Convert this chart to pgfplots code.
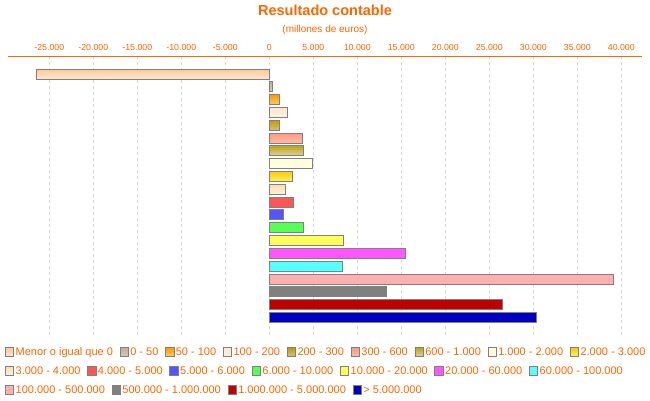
\documentclass[border=0pt]{standalone}
\usepackage{fontspec}
\setmainfont{Liberation Sans}
\usepackage{pgfplots}
\pgfplotsset{compat=1.18}
\definecolor{org}{HTML}{FF6600}
\definecolor{barline}{HTML}{808080}
\definecolor{gridc}{HTML}{D8D8D8}
\definecolor{a1}{HTML}{FFC999}\definecolor{b1}{HTML}{FFE6CC}
\definecolor{a2}{HTML}{C4B098}\definecolor{b2}{HTML}{D6C8B4}
\definecolor{a3}{HTML}{FF9900}\definecolor{b3}{HTML}{FFCC66}
\definecolor{a4}{HTML}{FFE6CC}\definecolor{b4}{HTML}{FFF2E4}
\definecolor{a5}{HTML}{C49A00}\definecolor{b5}{HTML}{D4C080}
\definecolor{a6}{HTML}{FF9980}\definecolor{b6}{HTML}{FFBBA4}
\definecolor{a7}{HTML}{BFA41A}\definecolor{b7}{HTML}{DCD09C}
\definecolor{a8}{HTML}{FFFFD8}\definecolor{b8}{HTML}{FFFFE4}
\definecolor{a9}{HTML}{FFCC00}\definecolor{b9}{HTML}{FFEE66}
\definecolor{a10}{HTML}{FFDDAA}\definecolor{b10}{HTML}{FFF0DC}
\definecolor{a11}{HTML}{FF5555}
\definecolor{a12}{HTML}{5555FF}
\definecolor{a13}{HTML}{55FF55}
\definecolor{a14}{HTML}{FFFF55}
\definecolor{a15}{HTML}{FF55FF}
\definecolor{a16}{HTML}{55FFFF}
\definecolor{a17}{HTML}{FFAFAF}
\definecolor{a18}{HTML}{808080}
\definecolor{a19}{HTML}{C00000}
\definecolor{a20}{HTML}{0000C0}
\tikzset{
 c1/.style={top color=a1,bottom color=b1},
 c2/.style={top color=a2,bottom color=b2},
 c3/.style={top color=a3,bottom color=b3},
 c4/.style={top color=a4,bottom color=b4},
 c5/.style={top color=a5,bottom color=b5},
 c6/.style={top color=a6,bottom color=b6},
 c7/.style={top color=a7,bottom color=b7},
 c8/.style={top color=a8,bottom color=b8},
 c9/.style={top color=a9,bottom color=b9},
 c10/.style={top color=a10,bottom color=b10},
 c11/.style={fill=a11},
 c12/.style={fill=a12},
 c13/.style={fill=a13},
 c14/.style={fill=a14},
 c15/.style={fill=a15},
 c16/.style={fill=a16},
 c17/.style={fill=a17},
 c18/.style={fill=a18},
 c19/.style={fill=a19},
 c20/.style={fill=a20},
}
\pgfplotsset{
 legrow/.style={
   width=10pt, height=10pt, scale only axis, hide axis,
   xmin=0, xmax=1, ymin=0, ymax=1, anchor=south west,
   legend columns=-1,
   legend image code/.code={\draw[##1,draw=barline,line width=0.8pt] (0pt,-4.2pt) rectangle (8.4pt,4.2pt);},
   legend style={draw=none, fill=none, inner sep=0pt, outer sep=0pt,
     at={(0,0.5)}, anchor=west,
     font=\fontsize{11}{12}\selectfont, text=org,
     nodes={inner sep=1.5pt},
     /tikz/every even column/.append style={column sep=5.2pt}},
 },
}
\begin{document}
\begin{tikzpicture}[x=1pt,y=1pt]
\path[use as bounding box] (0,0) rectangle (650,400);
\node[font=\bfseries\fontsize{14.5}{16}\selectfont, text=org] at (325,390) {Resultado contable};
\node[font=\fontsize{10}{11}\selectfont, text=org] at (325,370) {(millones de euros)};
\begin{axis}[
  at={(7.5pt,344pt)}, anchor=north west,
  width=634.5pt, height=279pt, scale only axis,
  xmin=-29750, xmax=42350,
  ymin=-1.406, ymax=20.38, y dir=reverse,
  axis x line=top, axis y line=none,
  x axis line style={-, draw=org, line width=0.8pt},
  xtick={-25000,-20000,...,40000},
  scaled x ticks=false,
  xticklabel style={font=\fontsize{8.8}{10}\selectfont, text=org, yshift=1.5pt},
  /pgf/number format/.cd, 1000 sep={.}, assume math mode=true, /pgfplots/.cd,
  ytick=\empty,
  xmajorgrids,
  grid style={dash pattern=on 3pt off 3pt, draw=gridc, line width=0.6pt},
  major tick length=0pt,
  bar width=10pt, bar shift=0pt,
  every axis plot/.append style={draw=barline, line width=0.8pt},
]
\addplot[xbar, c1] coordinates {(-26450,0)};
\addplot[xbar, c2] coordinates {(340,1)};
\addplot[xbar, c3] coordinates {(1170,2)};
\addplot[xbar, c4] coordinates {(2045,3)};
\addplot[xbar, c5] coordinates {(1170,4)};
\addplot[xbar, c6] coordinates {(3790,5)};
\addplot[xbar, c7] coordinates {(3900,6)};
\addplot[xbar, c8] coordinates {(4920,7)};
\addplot[xbar, c9] coordinates {(2650,8)};
\addplot[xbar, c10] coordinates {(1860,9)};
\addplot[xbar, c11] coordinates {(2770,10)};
\addplot[xbar, c12] coordinates {(1630,11)};
\addplot[xbar, c13] coordinates {(3900,12)};
\addplot[xbar, c14] coordinates {(8450,13)};
\addplot[xbar, c15] coordinates {(15490,14)};
\addplot[xbar, c16] coordinates {(8330,15)};
\addplot[xbar, c17] coordinates {(39130,16)};
\addplot[xbar, c18] coordinates {(13260,17)};
\addplot[xbar, c19] coordinates {(26510,18)};
\addplot[xbar, c20] coordinates {(30340,19)};
\end{axis}
\begin{axis}[legrow, at={(5pt,43pt)}]
\addlegendimage{c1}\addlegendentry{Menor o igual que 0}
\addlegendimage{c2}\addlegendentry{0 - 50}
\addlegendimage{c3}\addlegendentry{50 - 100}
\addlegendimage{c4}\addlegendentry{100 - 200}
\addlegendimage{c5}\addlegendentry{200 - 300}
\addlegendimage{c6}\addlegendentry{300 - 600}
\addlegendimage{c7}\addlegendentry{600 - 1.000}
\addlegendimage{c8}\addlegendentry{1.000 - 2.000}
\addlegendimage{c9}\addlegendentry{2.000 - 3.000}
\end{axis}
\begin{axis}[legrow, at={(5pt,24pt)}]
\addlegendimage{c10}\addlegendentry{3.000 - 4.000}
\addlegendimage{c11}\addlegendentry{4.000 - 5.000}
\addlegendimage{c12}\addlegendentry{5.000 - 6.000}
\addlegendimage{c13}\addlegendentry{6.000 - 10.000}
\addlegendimage{c14}\addlegendentry{10.000 - 20.000}
\addlegendimage{c15}\addlegendentry{20.000 - 60.000}
\addlegendimage{c16}\addlegendentry{60.000 - 100.000}
\end{axis}
\begin{axis}[legrow, at={(5pt,5pt)}]
\addlegendimage{c17}\addlegendentry{100.000 - 500.000}
\addlegendimage{c18}\addlegendentry{500.000 - 1.000.000}
\addlegendimage{c19}\addlegendentry{1.000.000 - 5.000.000}
\addlegendimage{c20}\addlegendentry{> 5.000.000}
\end{axis}
\end{tikzpicture}
\end{document}
